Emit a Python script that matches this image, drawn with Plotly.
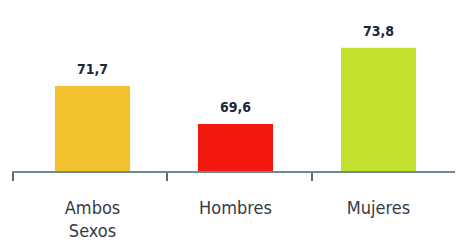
import plotly.graph_objects as go

categories = ["Ambos<br>Sexos", "Hombres", "Mujeres"]
values = [71.7, 69.6, 73.8]
colors = ["#f2c12e", "#f2180e", "#c3e02c"]

xpos = list(range(len(categories)))
FONT = "DejaVu Sans Condensed, Liberation Sans Narrow, Arial"

fig = go.Figure()
fig.add_trace(go.Bar(
    x=xpos, y=values, width=0.525,
    marker=dict(color=colors, line=dict(width=0)),
    hoverinfo="skip",
))

for xi, v in zip(xpos, values):
    fig.add_annotation(
        x=xi, y=v, xref="x", yref="y",
        text="<b>" + f"{v:.1f}".replace(".", ",") + "</b>",
        showarrow=False, yanchor="bottom", yshift=7,
        font=dict(family=FONT, size=14, color="#1c2838"),
    )

fig.update_layout(
    width=455, height=243,
    margin=dict(l=4, r=0, t=0, b=80),
    paper_bgcolor="white", plot_bgcolor="white",
    showlegend=False,
    xaxis=dict(
        range=[-0.563, 2.591],
        tickvals=xpos, ticktext=categories,
        ticks="", showgrid=False, zeroline=False,
        showline=True, linecolor="#6f8a96", linewidth=2,
        tickfont=dict(family=FONT, size=18, color="#363b46"),
        minor=dict(tickvals=[-0.556, 0.521, 1.535], ticks="outside", ticklen=8,
                   tickwidth=1.5, tickcolor="#5a6a70", showgrid=False),
        ticklabelstandoff=19,
    ),
    yaxis=dict(range=[67, 76.0], visible=False),
)

fig.write_html("out.html")
